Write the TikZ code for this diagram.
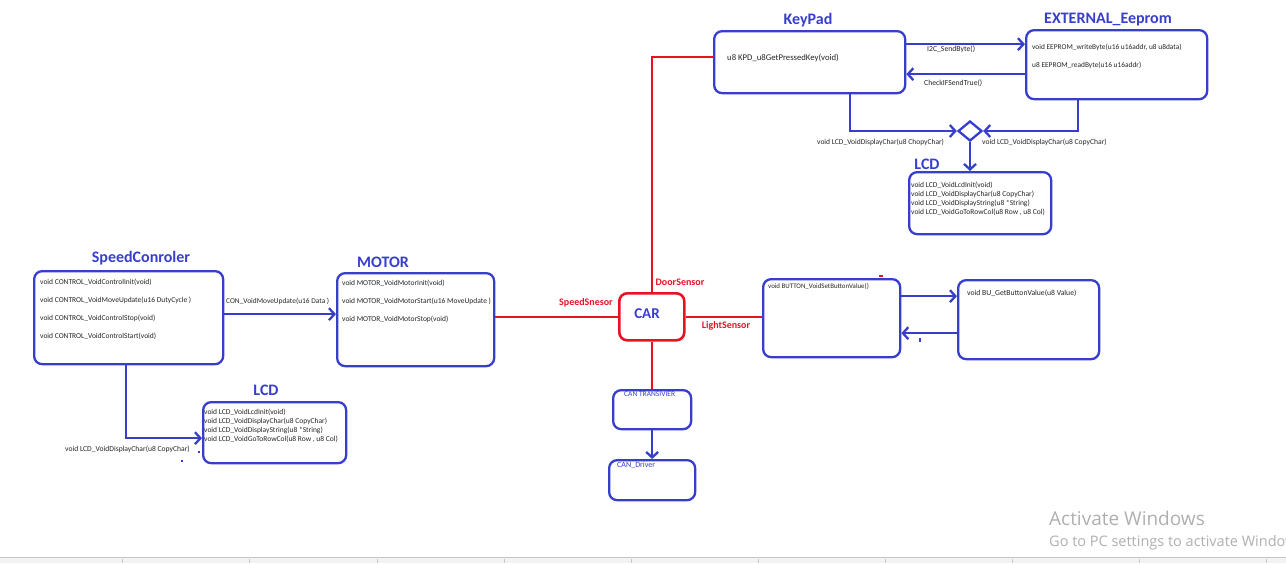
\documentclass[tikz,border=0pt]{standalone}
\usepackage{fontspec}
\setmainfont{Carlito}
\newfontfamily\winfont{Open Sans}
\usetikzlibrary{arrows.meta,shapes.geometric}
\definecolor{diagblue}{RGB}{56,62,204}
\definecolor{diagred}{RGB}{232,18,36}
\definecolor{wintext}{RGB}{175,175,175}

\begin{document}
\begin{tikzpicture}[x=1pt,y=-1pt,
  box/.style={draw=diagblue,line width=2.3pt,rounded corners=8pt,anchor=north west,inner sep=0pt,fill=white},
  carbox/.style={box,draw=diagred,line width=2.6pt},
  title/.style={text=diagblue,font=\bfseries\fontsize{16}{16}\selectfont,inner sep=0pt},
  fn/.style={font=\fontsize{7.5}{8}\selectfont,anchor=west,inner sep=0pt,text=black!85},
  fnsize/.style={font=\fontsize{#1}{#1}\selectfont},
  canfn/.style={fn,text=diagblue},
  bus/.style={draw=diagblue,line width=2.3pt},
  sig/.style={draw=diagred,line width=2.3pt},
  arr/.style={bus,-{Straight Barb[length=5.5pt,width=12pt]}},
  sensor/.style={text=diagred,font=\bfseries\fontsize{10}{10}\selectfont,inner sep=0pt},
]
\useasboundingbox (0,0) rectangle (1286,563);

% ---------- boxes ----------
\node[box,minimum width=191pt,minimum height=62pt] (kp) at (713,30) {};
\node[box,minimum width=181pt,minimum height=69pt] (ee) at (1025,29) {};
\node[box,minimum width=142pt,minimum height=62pt] (lcdA) at (908,171) {};
\node[box,minimum width=189pt,minimum height=93pt] (sc) at (33,270) {};
\node[box,minimum width=157pt,minimum height=93pt] (mot) at (336,272) {};
\node[box,minimum width=143pt,minimum height=61pt] (lcdB) at (202,401) {};
\node[carbox,minimum width=65pt,minimum height=47pt] (car) at (618,292) {};
\node[box,minimum width=137pt,minimum height=78pt] (btn) at (762,278) {};
\node[box,minimum width=141pt,minimum height=79pt] (bu) at (957,279) {};
\node[box,minimum width=78pt,minimum height=39pt] (can1) at (612,389) {};
\node[box,minimum width=86pt,minimum height=40pt] (can2) at (608,459) {};
\node[draw=diagblue,line width=2.3pt,fill=white,diamond,minimum width=24pt,minimum height=20pt,inner sep=0pt] (dia) at (970,131) {};

% ---------- titles ----------
\node[title] (tkp) at (808,20) {KeyPad};
\node[title] (tee) at (1108,20) {EXTERNAL\_Eeprom};
\node[title] (tlcdA) at (927,164) {LCD};
\node[title] (tsc) at (141,258) {SpeedConroler};
\node[title] (tmot) at (383,262) {MOTOR};
\node[title] (tlcdB) at (266,390) {LCD};
\node[text=diagblue,font=\bfseries\fontsize{15}{15}\selectfont,inner sep=0pt] (tcar) at (647,314) {CAR};

% ---------- functions ----------
\node[fn,fnsize=8.7] (f1) at (727,58) {u8 KPD\_u8GetPressedKey(void)};
\node[fn,fnsize=7.4] (f2) at (1032,47) {void EEPROM\_writeByte(u16 u16addr, u8 u8data)};
\node[fn,fnsize=7.4] (f3) at (1032,65) {u8 EEPROM\_readByte(u16 u16addr)};
\node[fn] (f4) at (911,185) {void LCD\_VoidLcdInit(void)};
\node[fn] (f5) at (911,194) {void LCD\_VoidDisplayChar(u8 CopyChar)};
\node[fn] (f6) at (911,203) {void LCD\_VoidDisplayString(u8 *String)};
\node[fn] (f7) at (911,212) {void LCD\_VoidGoToRowCol(u8 Row , u8 Col)};
\node[fn] (f8) at (40,282) {void CONTROL\_VoidControlInit(void)};
\node[fn] (f9) at (40,300) {void CONTROL\_VoidMoveUpdate(u16 DutyCycle )};
\node[fn] (f10) at (40,318) {void CONTROL\_VoidControlStop(void)};
\node[fn] (f11) at (40,336) {void CONTROL\_VoidControlStart(void)};
\node[fn] (f12) at (342,283) {void MOTOR\_VoidMotorInit(void)};
\node[fn] (f13) at (342,301) {void MOTOR\_VoidMotorStart(u16 MoveUpdate )};
\node[fn] (f14) at (342,319) {void MOTOR\_VoidMotorStop(void)};
\node[fn] (f15) at (204,412) {void LCD\_VoidLcdInit(void)};
\node[fn] (f16) at (204,421) {void LCD\_VoidDisplayChar(u8 CopyChar)};
\node[fn] (f17) at (204,430) {void LCD\_VoidDisplayString(u8 *String)};
\node[fn] (f18) at (204,439) {void LCD\_VoidGoToRowCol(u8 Row , u8 Col)};
\node[fn,fnsize=6.9] (f19) at (768,286) {void BUTTON\_VoidSetButtonValue()};
\node[fn,fnsize=7.7] (f20) at (967,293) {void BU\_GetButtonValue(u8 Value)};
\node[canfn] (f21) at (624,394) {CAN TRANSIVIER};
\node[canfn,fnsize=8] (f22) at (617,465) {CAN\_Driver};

% ---------- connectors ----------
\coordinate (k1) at ([yshift=18pt]kp.east);
\coordinate (k2) at ([yshift=-12pt]kp.east);
\draw[arr] (k1) -- (k1 -| ee.west);
\draw[arr] (k2 -| ee.west) -- (k2);
\node[fn,fnsize=7.7] (l1) at (927,49) {I2C\_SendByte()};
\node[fn,fnsize=7.7] (l2) at (924,83) {CheckIFSendTrue()};

\coordinate (k3) at ([xshift=137pt]kp.south west);
\coordinate (e3) at ([xshift=53pt]ee.south west);
\draw[arr] (k3) |- (dia.west);
\draw[arr] (e3) |- (dia.east);
\draw[arr] (dia.south) -- (dia.south |- lcdA.north);
\node[fn] (l3) at (817,142) {void LCD\_VoidDisplayChar(u8 ChopyChar)};
\node[fn,fnsize=7.6] (l4) at (982,142) {void LCD\_VoidDisplayChar(u8 CopyChar)};

\coordinate (s1) at ([yshift=3.5pt]sc.east);
\draw[arr] (s1) -- (s1 -| mot.west);
\node[fn,fnsize=7.4] (l5) at (226,301) {CON\_VoidMoveUpdate(u16 Data )};

\coordinate (s2) at ([xshift=93pt]sc.south west);
\coordinate (d2) at ([yshift=-5.5pt]lcdB.west);
\draw[arr] (s2) |- (d2);
\node[fn,fnsize=7.6] (l6) at (65,449) {void LCD\_VoidDisplayChar(u8 CopyChar)};

\coordinate (b1) at ([yshift=22pt]btn.east);
\coordinate (b2) at ([yshift=-13.5pt]bu.west);
\draw[arr] (b1) -- (b1 -| bu.west);
\draw[arr] (b2) -- (b2 -| btn.east);

\draw[arr] (can1.south) -- (can2.north);

% ---------- sensor lines to the car ----------
\draw[sig] (car.north) |- ([yshift=5pt]kp.west);
\draw[sig] (car.west) -- (car.west -| mot.east);
\draw[sig] (car.east) -- (car.east -| btn.west);
\draw[sig] (car.south) -- (car.south |- can1.north);
\node[sensor] (n1) at (680,282) {DoorSensor};
\node[sensor] (n2) at (586,303) {SpeedSnesor};
\node[sensor] (n3) at (726,326) {LightSensor};

% ---------- stray pen marks ----------
\fill[diagblue] (918.5,338) rectangle (920.5,342);
\fill[diagred] (879,275) rectangle (883,277);
\fill[diagblue] (181,460) rectangle (183,462);
\fill[diagblue] (198,451) rectangle (200,453);

% ---------- status bar and watermark ----------
\fill[gray!10] (0,557) rectangle (1286,563);
\draw[gray!45,line width=0.8pt] (0,557.5) -- (1286,557.5);
\foreach \t in {122,249,377,504,631,758,885,1012,1139,1266}
  \draw[gray!45,line width=0.6pt] (\t,559) -- (\t,563);
\node[anchor=base west,inner sep=0pt,text=wintext,font=\winfont\fontsize{19}{19}\selectfont] (w1) at (1049,525) {Activate Windows};
\node[anchor=base west,inner sep=0pt,text=wintext,font=\winfont\fontsize{14.5}{15}\selectfont] (w2) at (1049,546) {Go to PC settings to activate Windows};
\end{tikzpicture}
\end{document}
